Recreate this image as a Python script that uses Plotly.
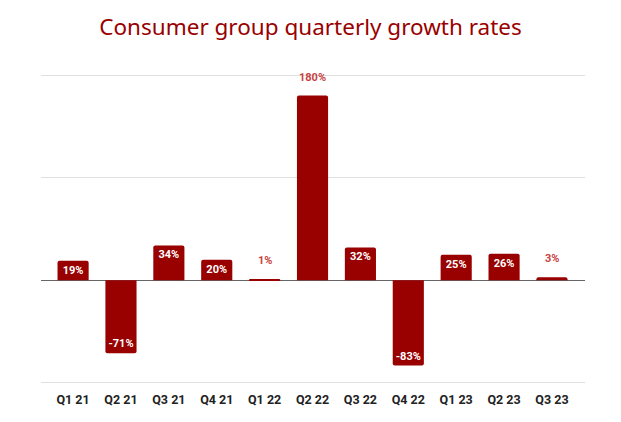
import plotly.graph_objects as go

quarters = ["Q1 21", "Q2 21", "Q3 21", "Q4 21", "Q1 22", "Q2 22", "Q3 22", "Q4 22", "Q1 23", "Q2 23", "Q3 23"]
growth = [19, -71, 34, 20, 1, 180, 32, -83, 25, 26, 3]
outside_labels = ["Q1 22", "Q2 22", "Q3 23"]

inside_text = ["" if q in outside_labels else f"{v}%" for q, v in zip(quarters, growth)]

fig = go.Figure()
fig.add_trace(go.Bar(
    x=quarters, y=growth,
    marker=dict(color="#990000", cornerradius=2, line=dict(width=0)),
    width=0.65,
    text=inside_text,
    textposition="inside",
    insidetextanchor="end",
    insidetextfont=dict(family="Roboto", size=11, color="white", weight="bold"),
    textangle=0,
    cliponaxis=False,
    hoverinfo="skip",
))

for q, v in zip(quarters, growth):
    if q in outside_labels:
        fig.add_annotation(x=q, y=v, text=f"{v}%", showarrow=False,
                           yanchor="bottom", yshift=10,
                           font=dict(family="Roboto", size=11, color="#c84343", weight="bold"))

fig.update_layout(
    width=621, height=422,
    margin=dict(l=41, r=36, t=74, b=38),
    paper_bgcolor="white", plot_bgcolor="white",
    title=dict(text="Consumer group quarterly growth rates", x=0.5, xanchor="center",
               y=1 - 27 / 422, yanchor="middle",
               font=dict(family="Noto Sans", size=22.5, color="#990000")),
    showlegend=False,
)
fig.update_xaxes(type="category", range=[-0.67, 10.69], showgrid=False, showline=False,
                 ticks="", tickfont=dict(family="Roboto", size=12.5, color="#222222", weight="bold"),
                 ticklabelstandoff=6)
fig.update_yaxes(range=[-101, 201], tickvals=[-100, 0, 100, 200], showticklabels=False,
                 showgrid=True, gridcolor="#e0e0e0", gridwidth=1,
                 zeroline=True, zerolinecolor="#666666", zerolinewidth=1, showline=False)

fig.write_html("out.html", config={"displayModeBar": False},
               post_script="document.body.style.margin='0';")
